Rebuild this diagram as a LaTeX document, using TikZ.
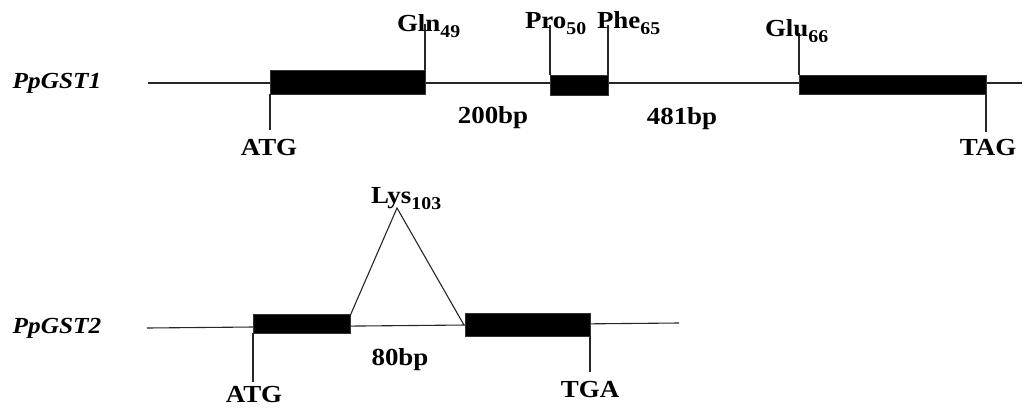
\documentclass[tikz,border=0pt]{standalone}
\usepackage{fontspec}
\setmainfont{Liberation Serif}[FakeStretch=1.1]
\newcommand{\subn}[1]{\raisebox{-0.25em}{\fontsize{18}{18}\selectfont #1}}
\begin{document}
\begin{tikzpicture}[x=1pt,y=-1pt,
  every node/.style={inner sep=0pt,outer sep=0pt},
  lab/.style={font=\fontsize{24.5}{24.5}\selectfont\bfseries},
  gene/.style={font=\fontsize{23}{23}\selectfont\bfseries\itshape},
  ln/.style={line width=1.1pt,draw=black!85},
  exon/.style={fill=black,draw=black!80,line width=0.8pt}]
\useasboundingbox (0,0) rectangle (1027,410);
% ---------- PpGST1 ----------
\node[gene,anchor=base] (g1) at (57,88) {PpGST1};
\coordinate (l1a) at (148,83);
\coordinate (l1b) at (1022,83);
\draw[ln] (l1a) -- (l1b);
\draw[exon] (270,70) rectangle (425,94);
\draw[exon] (550,75) rectangle (608,95);
\draw[exon] (799,75) rectangle (986,94);
\coordinate (atg1) at (270,130);
\coordinate (gln) at (425,24);
\coordinate (pro) at (550,25);
\coordinate (phe) at (608,25);
\coordinate (glu) at (799,33);
\coordinate (tag) at (986,132);
\draw[ln] (270,94) -- (atg1);
\draw[ln] (425,70) -- (gln);
\draw[ln] (550,75) -- (pro);
\draw[ln] (608,75) -- (phe);
\draw[ln] (799,75) -- (glu);
\draw[ln] (986,94) -- (tag);
\node[lab,anchor=base] (tATG1) at (269,155) {ATG};
\node[lab,anchor=base] (tTAG) at (988,155) {TAG};
\node[lab,anchor=base west] (tGln) at (397,31) {Gln\subn{49}};
\node[lab,anchor=base west] (tPro) at (525,28) {Pro\subn{50}};
\node[lab,anchor=base west] (tPhe) at (597,28) {Phe\subn{65}};
\node[lab,anchor=base west] (tGlu) at (765,36) {Glu\subn{66}};
\node[lab,anchor=base] (t200) at (493,123) {200bp};
\node[lab,anchor=base] (t481) at (682,124) {481bp};
% ---------- PpGST2 ----------
\node[gene,anchor=base] (g2) at (57,333) {PpGST2};
\coordinate (l2a) at (147,328);
\coordinate (l2b) at (679,323);
\draw[ln] (l2a) -- (l2b);
\draw[exon] (253,314) rectangle (350,333);
\draw[exon] (465,313) rectangle (590,336);
\coordinate (apex) at (397,208);
\coordinate (footL) at (350,316);
\coordinate (footR) at (464,325);
\draw[ln] (footL) -- (apex) -- (footR);
\coordinate (atg2) at (253,382);
\coordinate (tga) at (590,372);
\draw[ln] (253,333) -- (atg2);
\draw[ln] (590,336) -- (tga);
\node[lab,anchor=base west] (tLys) at (371,203) {Lys\subn{103}};
\node[lab,anchor=base] (t80) at (400,365) {80bp};
\node[lab,anchor=base] (tATG2) at (254,402) {ATG};
\node[lab,anchor=base] (tTGA) at (590,397) {TGA};
\end{tikzpicture}
\end{document}
